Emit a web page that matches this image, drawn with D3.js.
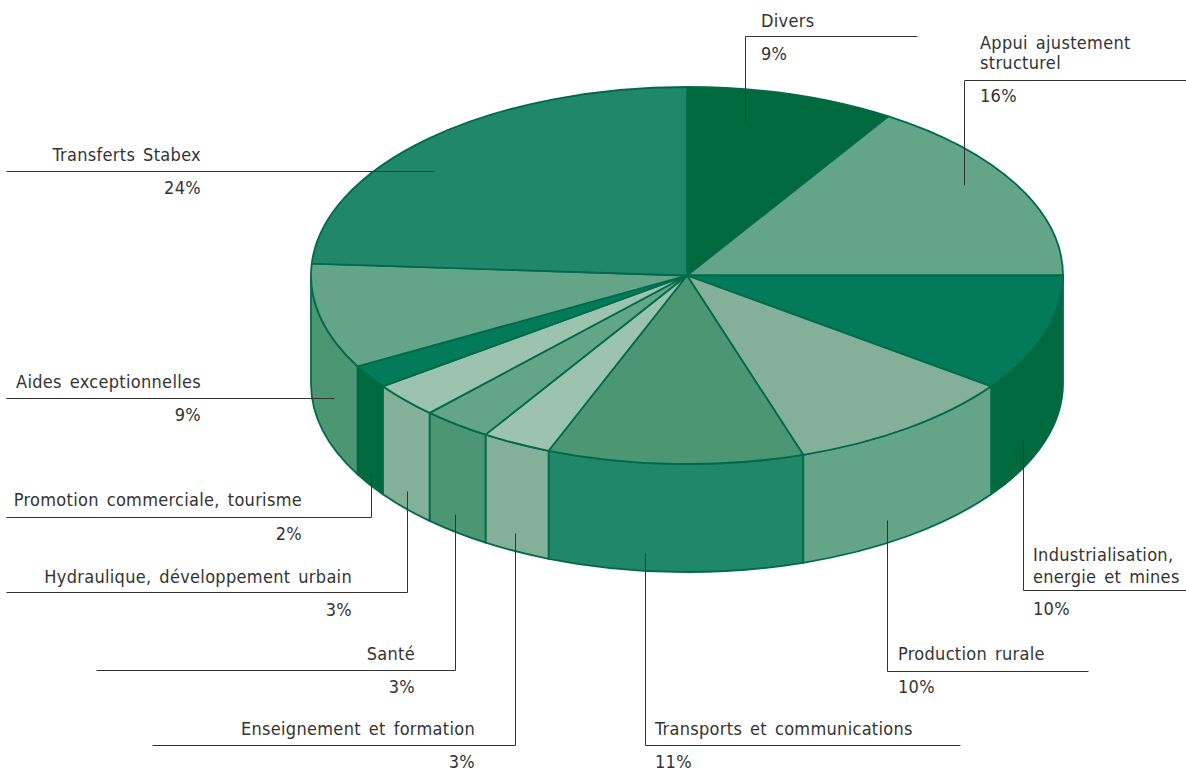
<!DOCTYPE html>
<html lang="fr">
<head>
<meta charset="utf-8">
<script src="https://cdn.jsdelivr.net/npm/d3@7"></script>
<style>
  html, body { margin: 0; padding: 0; background: #fff; }
  svg { display: block; }
  text { font-family: "DejaVu Sans Condensed", "DejaVu Sans", sans-serif; font-stretch: condensed; font-size: 18px; fill: #333; letter-spacing: 0.3px; word-spacing: 2.5px; }
</style>
</head>
<body>
<svg id="chart" width="1186" height="771"></svg>
<script>
// Budget shares per sector, clockwise from twelve o'clock
const categories = [
  "Divers", "Appui ajustement structurel", "Industrialisation, energie et mines",
  "Production rurale", "Transports et communications", "Enseignement et formation",
  "Santé", "Hydraulique, développement urbain", "Promotion commerciale, tourisme",
  "Aides exceptionnelles", "Transferts Stabex"
];
const shares = [9, 16, 10, 10, 11, 3, 3, 3, 2, 9, 24];
const topColors = ["#00693e", "#64a58a", "#037b5b", "#84b09a", "#4c9674", "#9bc3b0",
                   "#64a58a", "#9bc3b0", "#037b5b", "#64a58a", "#208868"];
const sideColors = ["#00693e", "#64a58a", "#00693e", "#64a58a", "#208868", "#84b09a",
                    "#4c9674", "#84b09a", "#00693e", "#4c9674", "#208868"];

// Leader lines and their captions, keyed by sector
const callouts = [
  { key: "Divers", line: [[917,36],[745,36],[745,123]], anchor: "start", x: 761, name: [["Divers",27]], pct: 60 },
  { key: "Appui ajustement structurel", line: [[1186,80],[964,80],[964,185]], anchor: "start", x: 980, name: [["Appui ajustement",49],["structurel",69]], pct: 102 },
  { key: "Industrialisation, energie et mines", line: [[1186,590],[1023,590],[1023,441]], anchor: "start", x: 1033, name: [["Industrialisation,",561],["energie et mines",583]], pct: 615 },
  { key: "Production rurale", line: [[1088,671],[887,671],[887,520]], anchor: "start", x: 898, name: [["Production rurale",660]], pct: 693 },
  { key: "Transports et communications", line: [[960,745],[645,745],[645,553]], anchor: "start", x: 655, name: [["Transports et communications",735]], pct: 768 },
  { key: "Enseignement et formation", line: [[152,745],[515,745],[515,533]], anchor: "end", x: 475, name: [["Enseignement et formation",735]], pct: 768 },
  { key: "Santé", line: [[96,670],[455,670],[455,514]], anchor: "end", x: 415, name: [["Santé",660]], pct: 693 },
  { key: "Hydraulique, développement urbain", line: [[6,592],[407,592],[407,491]], anchor: "end", x: 352, name: [["Hydraulique, développement urbain",583]], pct: 616 },
  { key: "Promotion commerciale, tourisme", line: [[6,517],[371,517],[371,473]], anchor: "end", x: 302, name: [["Promotion commerciale, tourisme",506]], pct: 540 },
  { key: "Aides exceptionnelles", line: [[6,398],[334,398]], anchor: "end", x: 201, name: [["Aides exceptionnelles",388]], pct: 421 },
  { key: "Transferts Stabex", line: [[6,171],[434,171]], anchor: "end", x: 201, name: [["Transferts Stabex",161]], pct: 194 }
];

const cx = 687, cy = 275.5, rx = 376, ry = 188.5, depth = 108;
const svg = d3.select("#chart");

const slices = d3.pie().sort(null).value(d => d)(shares);
const point = (a, dy = 0) => [cx + rx * Math.sin(a), cy - ry * Math.cos(a) + dy];
const sweep = (a0, a1) => `A${rx},${ry} 0 ${a1 - a0 > Math.PI ? 1 : 0} 1`;

// Rim: only the part of each sector facing the viewer (quarter past to quarter to)
const frontStart = Math.PI / 2, frontEnd = 3 * Math.PI / 2;
const rim = svg.append("g");
slices.forEach((s, i) => {
  const a0 = Math.max(s.startAngle, frontStart), a1 = Math.min(s.endAngle, frontEnd);
  if (a1 <= a0) return;
  const p0 = point(a0), p1 = point(a1), q1 = point(a1, depth), q0 = point(a0, depth);
  rim.append("path")
    .attr("d", `M${p0} ${sweep(a0, a1)} ${p1} L${q1} A${rx},${ry} 0 0 0 ${q0} Z`)
    .attr("fill", sideColors[i])
    .attr("stroke", "#006b4a")
    .attr("stroke-width", 1.8)
    .attr("stroke-linejoin", "round");
});

// Top face
const face = svg.append("g");
slices.forEach((s, i) => {
  const p0 = point(s.startAngle), p1 = point(s.endAngle);
  face.append("path")
    .attr("d", `M${cx},${cy} L${p0} ${sweep(s.startAngle, s.endAngle)} ${p1} Z`)
    .attr("fill", topColors[i])
    .attr("stroke", "#006b4a")
    .attr("stroke-width", 1.8)
    .attr("stroke-linejoin", "round");
});

// Captions
const notes = svg.append("g");
notes.append("g").attr("transform", "translate(0.5,0.5)")
  .selectAll("path").data(callouts).join("path")
  .attr("d", d => d3.line()(d.line))
  .attr("fill", "none")
  .attr("stroke", "#333")
  .attr("stroke-width", 1);

callouts.forEach(c => {
  const value = shares[categories.indexOf(c.key)];
  c.name.forEach(([txt, y]) => {
    notes.append("text").attr("x", c.x).attr("y", y).attr("text-anchor", c.anchor).text(txt);
  });
  notes.append("text").attr("x", c.x).attr("y", c.pct).attr("text-anchor", c.anchor).text(value + "%");
});
</script>
</body>
</html>
